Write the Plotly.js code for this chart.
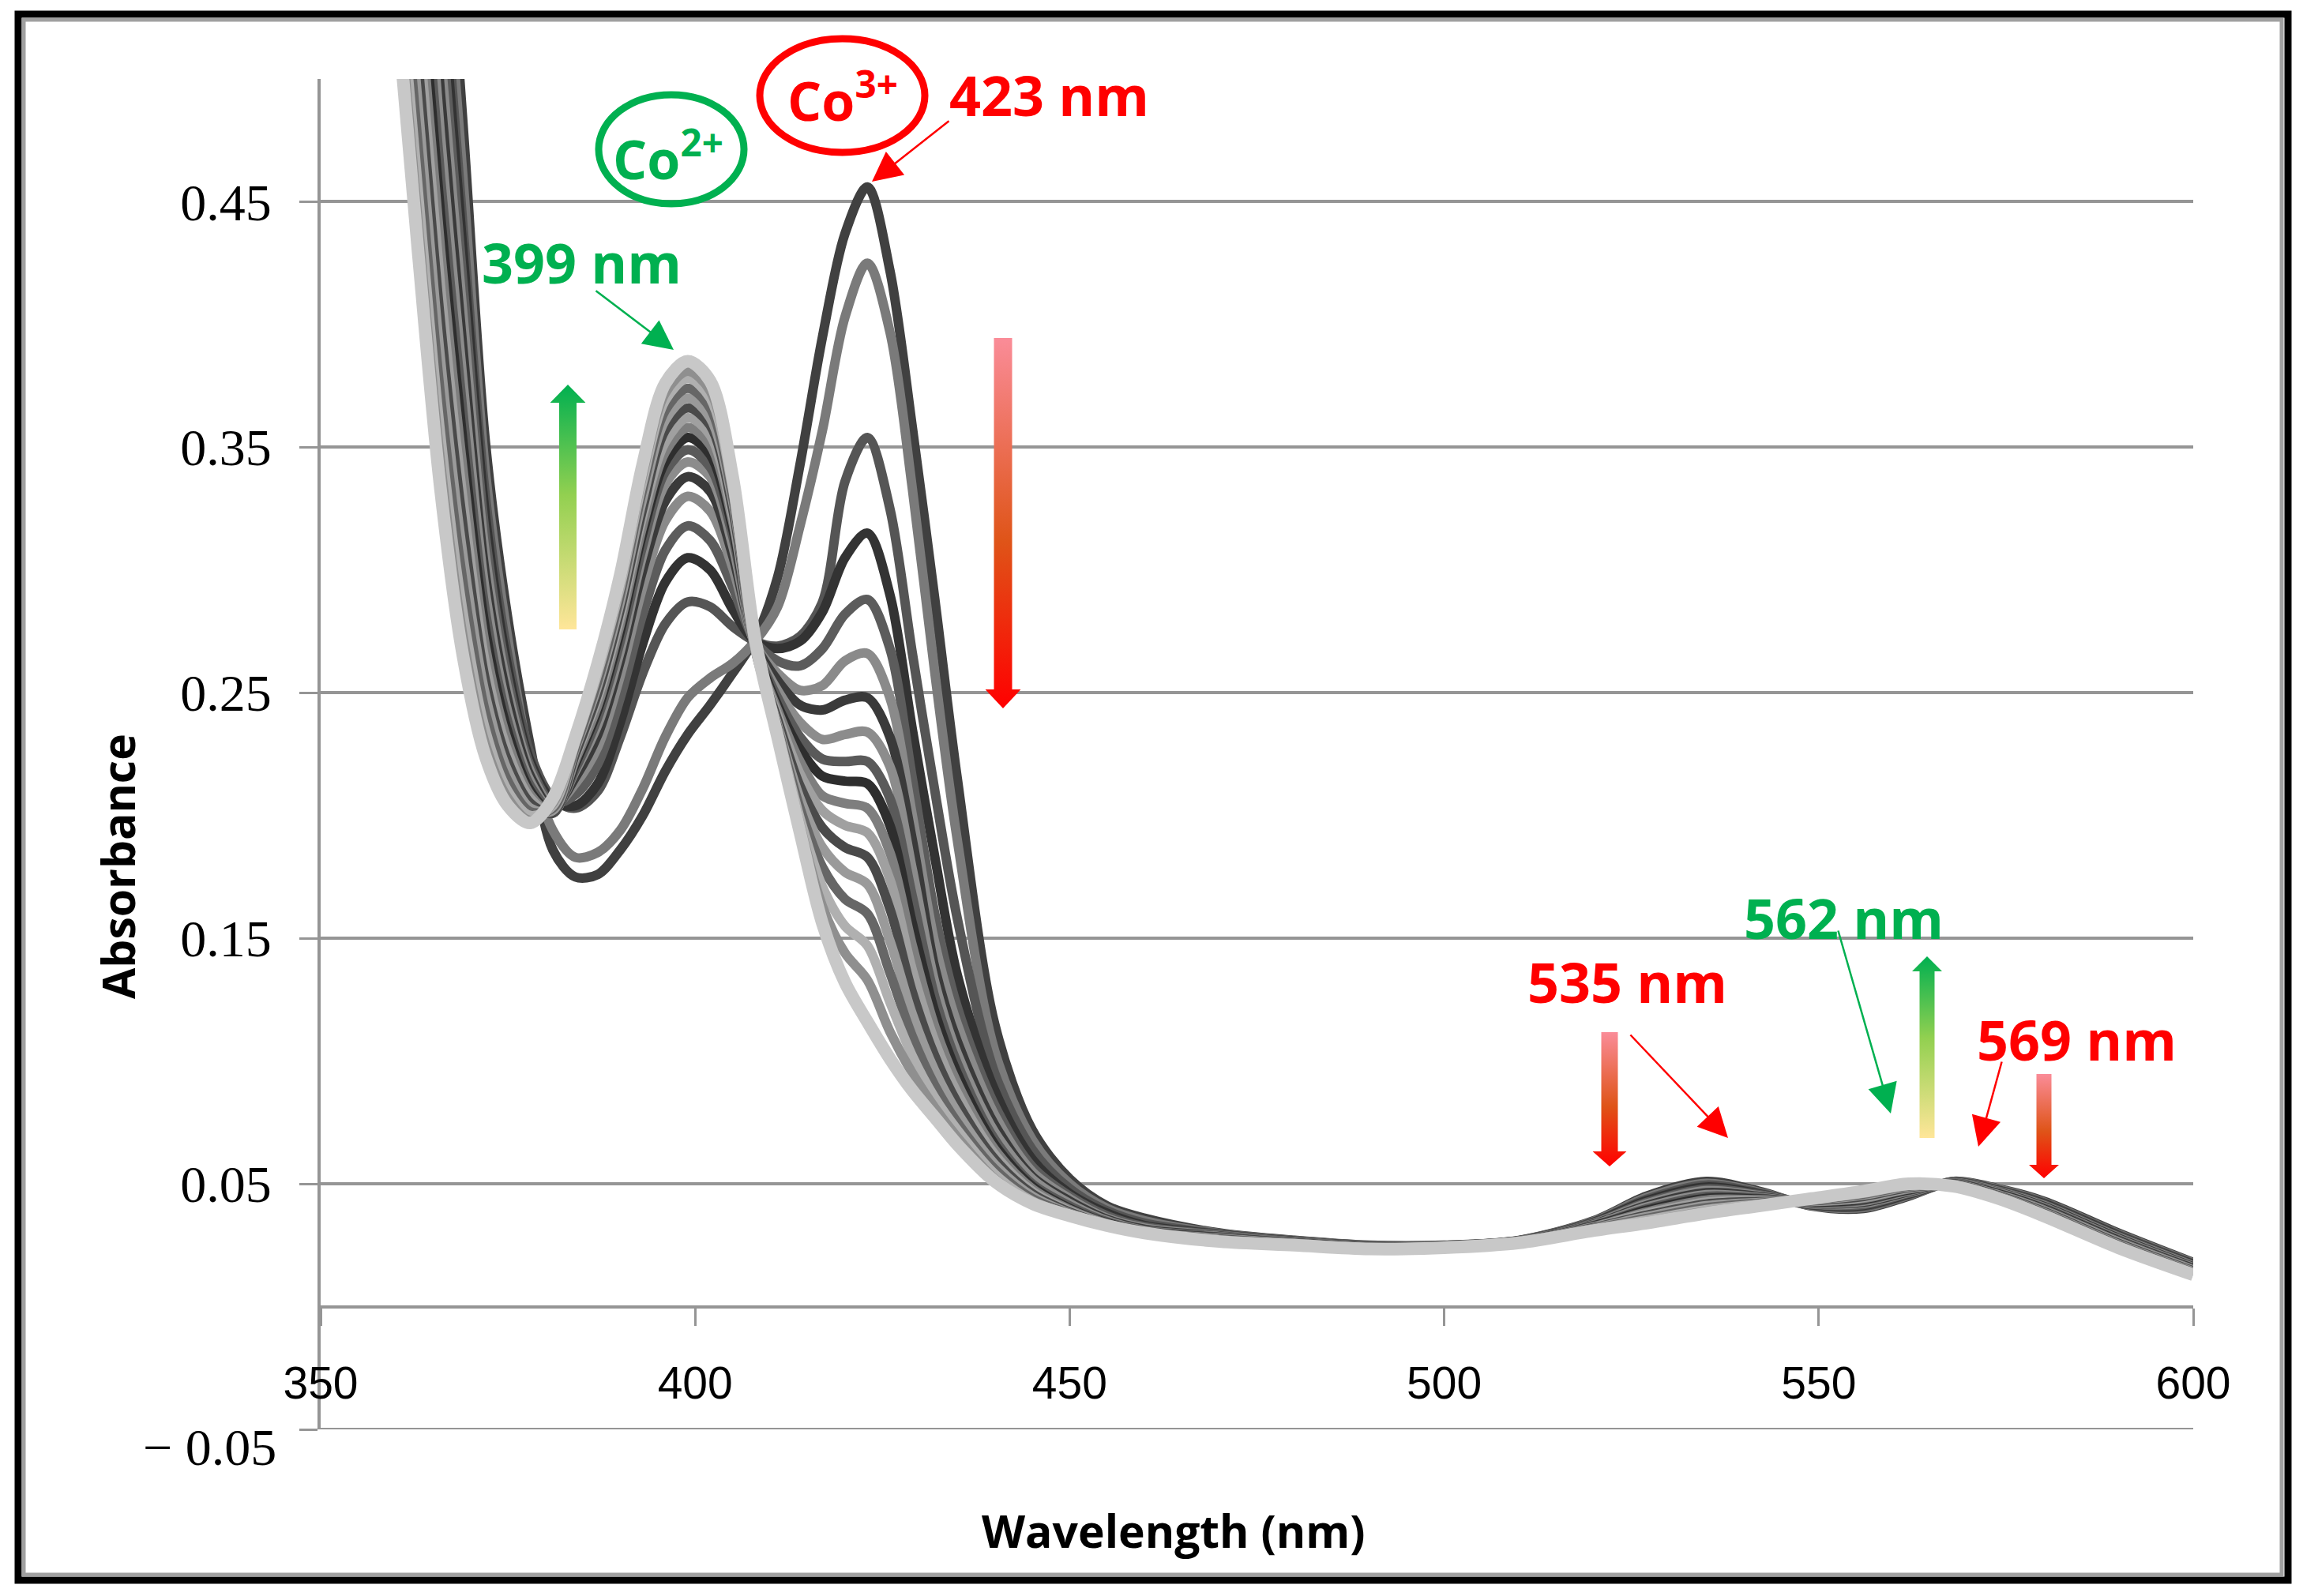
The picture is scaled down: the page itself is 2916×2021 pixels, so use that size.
<!DOCTYPE html>
<html>
<head>
<meta charset="utf-8">
<script src="https://cdn.plot.ly/plotly-3.0.1.min.js"></script>
<style>html,body{margin:0;padding:0;background:#fff}</style>
</head>
<body>
<div id="plot" style="width:2916px;height:2021px"></div>
<script>
// wavelengths (nm) shared by every scan
const wavelength = [360,363,366,369,372,375,378,381,384,387,390,393,396,399,402,405,408,411,414,417,420,423,426,429,432,435,
  440,445,450,455,460,470,480,490,500,510,520,527,535,542,549,556,562,568,574,580,590,600];

// absorbance scans, first (Co3+ rich, dark) to last (Co2+, light grey)
const scan01 = [0.85,0.74,0.61,0.482,0.352,0.28,0.228,0.186,0.175,0.176,0.186,0.200,0.218,0.233,0.245,0.258,0.272,0.297,0.343,0.395,0.437,0.456,0.422,0.358,0.288,0.215,
  0.115,0.072,0.052,0.041,0.036,0.030,0.027,0.025,0.025,0.027,0.035,0.045,0.051,0.047,0.041,0.040,0.045,0.051,0.048,0.043,0.030,0.018];
const scan02 = [0.82,0.71,0.58,0.46,0.34,0.272,0.222,0.194,0.183,0.185,0.194,0.211,0.232,0.248,0.256,0.262,0.271,0.285,0.318,0.357,0.403,0.425,0.397,0.333,0.258,0.19,
  0.104,0.068,0.050,0.040,0.035,0.0298,0.0269,0.0249,0.0249,0.0269,0.0348,0.0444,0.0502,0.0466,0.0412,0.0404,0.0453,0.0509,0.0478,0.0426,0.0296,0.0177];
const scan03 = [0.80,0.69,0.56,0.44,0.33,0.265,0.225,0.207,0.203,0.210,0.232,0.258,0.278,0.287,0.285,0.277,0.271,0.269,0.273,0.287,0.336,0.354,0.325,0.266,0.21,0.158,
  0.095,0.064,0.048,0.039,0.034,0.0296,0.0268,0.0248,0.0249,0.0269,0.0345,0.0437,0.0495,0.0463,0.0414,0.0408,0.0456,0.0508,0.0475,0.0423,0.0293,0.0174];
const scan04 = [0.78,0.67,0.545,0.43,0.322,0.26,0.222,0.206,0.204,0.213,0.238,0.27,0.295,0.305,0.300,0.284,0.271,0.268,0.271,0.283,0.305,0.315,0.29,0.235,0.183,0.135,
  0.088,0.060,0.046,0.038,0.033,0.0294,0.0266,0.0247,0.0248,0.0268,0.0343,0.0431,0.0487,0.0459,0.0415,0.0412,0.0459,0.0506,0.0473,0.0419,0.0289,0.0171];
const scan05 = [0.760,0.651,0.528,0.417,0.314,0.2555,0.220,0.205,0.2085,0.221,0.248,0.282,0.308,0.318,0.312,0.293,0.271,0.263,0.261,0.268,0.282,0.288,0.268,0.215,0.16,0.122,
  0.082,0.057,0.045,0.037,0.0325,0.0292,0.0265,0.0246,0.0248,0.0268,0.0341,0.0424,0.0479,0.0456,0.0417,0.0416,0.0462,0.0505,0.0471,0.0416,0.0286,0.0168];
const scan06 = [0.741,0.632,0.511,0.404,0.306,0.251,0.218,0.204,0.213,0.228,0.257,0.293,0.320,0.330,0.324,0.301,0.270,0.258,0.251,0.253,0.263,0.266,0.248,0.2,0.148,0.115,
  0.078,0.055,0.044,0.036,0.032,0.029,0.0264,0.0246,0.0247,0.0267,0.0338,0.0418,0.0472,0.0452,0.0419,0.0421,0.0465,0.0504,0.0468,0.0412,0.0282,0.0165];
const scan07 = [0.721,0.612,0.494,0.390,0.298,0.247,0.216,0.203,0.2155,0.233,0.263,0.300,0.328,0.338,0.332,0.306,0.270,0.255,0.245,0.243,0.247,0.248,0.232,0.19,0.138,0.108,
  0.074,0.053,0.043,0.0355,0.0315,0.0288,0.0263,0.0245,0.0246,0.0266,0.0336,0.0411,0.0464,0.0449,0.0421,0.0425,0.0468,0.0503,0.0466,0.0409,0.0279,0.0162];
const scan08 = [0.702,0.593,0.477,0.377,0.291,0.242,0.214,0.202,0.218,0.237,0.267,0.306,0.335,0.344,0.338,0.310,0.269,0.251,0.238,0.231,0.233,0.234,0.22,0.178,0.132,0.103,
  0.071,0.052,0.042,0.035,0.031,0.0286,0.0262,0.0244,0.0246,0.0266,0.0334,0.0405,0.0456,0.0445,0.0422,0.0429,0.0471,0.0502,0.0464,0.0405,0.0275,0.0159];
const scan09 = [0.682,0.574,0.460,0.364,0.283,0.238,0.212,0.202,0.219,0.240,0.271,0.310,0.340,0.349,0.342,0.314,0.269,0.248,0.232,0.223,0.222,0.222,0.207,0.167,0.126,0.099,
  0.068,0.050,0.041,0.0345,0.0308,0.0284,0.0261,0.0243,0.0245,0.0265,0.0331,0.0398,0.0449,0.0442,0.0424,0.0433,0.0474,0.0501,0.0461,0.0402,0.0272,0.0156];
const scan10 = [0.665,0.557,0.445,0.352,0.276,0.234,0.210,0.201,0.221,0.243,0.275,0.315,0.344,0.354,0.347,0.317,0.269,0.245,0.227,0.216,0.214,0.213,0.196,0.156,0.12,0.095,
  0.066,0.049,0.040,0.034,0.0305,0.0281,0.0259,0.0242,0.0245,0.0265,0.0329,0.0392,0.0441,0.0438,0.0426,0.0437,0.0476,0.0499,0.0459,0.0398,0.0268,0.0154];
const scan11 = [0.648,0.540,0.431,0.341,0.269,0.230,0.2085,0.201,0.2225,0.245,0.278,0.318,0.348,0.358,0.351,0.320,0.268,0.243,0.222,0.208,0.205,0.203,0.185,0.147,0.114,0.091,
  0.064,0.048,0.0395,0.0338,0.0303,0.0279,0.0258,0.0241,0.0244,0.0264,0.0326,0.0385,0.0434,0.0435,0.0428,0.0441,0.0479,0.0498,0.0456,0.0395,0.0265,0.0151];
const scan12 = [0.631,0.524,0.416,0.329,0.262,0.226,0.207,0.201,0.224,0.248,0.281,0.322,0.352,0.362,0.355,0.322,0.268,0.241,0.217,0.202,0.196,0.193,0.174,0.137,0.108,0.087,
  0.062,0.047,0.039,0.0335,0.030,0.0277,0.0257,0.024,0.0244,0.0264,0.0324,0.0379,0.0426,0.0431,0.0429,0.0445,0.0482,0.0497,0.0454,0.0391,0.0261,0.0148];
const scan13 = [0.613,0.507,0.401,0.318,0.255,0.222,0.205,0.201,0.225,0.250,0.284,0.325,0.357,0.366,0.359,0.325,0.268,0.239,0.212,0.195,0.187,0.183,0.162,0.128,0.102,0.083,
  0.060,0.046,0.0385,0.0333,0.030,0.0275,0.0256,0.0239,0.0243,0.0263,0.0322,0.0372,0.0418,0.0428,0.0431,0.0449,0.0485,0.0496,0.0452,0.0388,0.0258,0.0145];
const scan14 = [0.596,0.49,0.386,0.306,0.249,0.218,0.203,0.202,0.227,0.253,0.287,0.329,0.361,0.370,0.362,0.328,0.268,0.237,0.207,0.187,0.177,0.172,0.149,0.119,0.096,0.079,
  0.058,0.045,0.038,0.033,0.030,0.0273,0.0255,0.0239,0.0242,0.0262,0.0319,0.0366,0.0411,0.0424,0.0433,0.0454,0.0488,0.0495,0.0449,0.0384,0.0254,0.0142];
const scan15 = [0.579,0.473,0.371,0.295,0.242,0.214,0.2015,0.203,0.228,0.255,0.290,0.333,0.365,0.374,0.366,0.330,0.268,0.236,0.203,0.179,0.166,0.160,0.136,0.11,0.09,0.075,
  0.056,0.044,0.0378,0.033,0.030,0.0271,0.0254,0.0238,0.0242,0.0262,0.0317,0.0359,0.0403,0.0421,0.0435,0.0458,0.0491,0.0494,0.0447,0.0381,0.0251,0.0139];
const scan16 = [0.562,0.456,0.356,0.283,0.235,0.210,0.200,0.204,0.2295,0.258,0.293,0.336,0.369,0.378,0.370,0.333,0.268,0.235,0.199,0.171,0.155,0.147,0.124,0.102,0.085,0.072,
  0.054,0.043,0.0375,0.033,0.030,0.0269,0.0252,0.0237,0.0241,0.0261,0.0315,0.0353,0.0395,0.0417,0.0436,0.0462,0.0494,0.0492,0.0445,0.0377,0.0247,0.0136];
const scan17 = [0.547,0.442,0.344,0.273,0.229,0.207,0.198,0.205,0.231,0.260,0.295,0.339,0.372,0.381,0.373,0.336,0.269,0.234,0.196,0.163,0.144,0.133,0.112,0.095,0.081,0.069,
  0.052,0.0425,0.037,0.033,0.030,0.0267,0.0251,0.0236,0.0241,0.0261,0.0312,0.0346,0.0388,0.0414,0.0438,0.0466,0.0497,0.0491,0.0442,0.0374,0.0244,0.0133];
const scan18 = [0.535,0.43,0.333,0.265,0.224,0.204,0.197,0.207,0.232,0.262,0.298,0.343,0.376,0.385,0.377,0.338,0.272,0.232,0.193,0.156,0.132,0.116,0.101,0.088,0.077,0.066,
  0.051,0.042,0.037,0.033,0.030,0.0265,0.025,0.0235,0.024,0.026,0.031,0.034,0.038,0.041,0.044,0.047,0.050,0.049,0.044,0.037,0.024,0.013];

const xTicks = [350, 400, 450, 500, 550, 600];
const yTicks = [-0.05, 0.05, 0.15, 0.25, 0.35, 0.45];
const yTickText = ['', '0.05', '0.15', '0.25', '0.35', '0.45'];

const scans = [scan01, scan02, scan03, scan04, scan05, scan06, scan07, scan08, scan09,
               scan10, scan11, scan12, scan13, scan14, scan15, scan16, scan17, scan18];
const lineColors = ['#404040','#7a7a7a','#555555','#333333','#5c5c5c','#8a8a8a','#3a3a3a','#8c8c8c','#5a5a5a',
                    '#2e2e2e','#7e7e7e','#a0a0a0','#4a4a4a','#9a9a9a','#666666','#b0b0b0','#8f8f8f','#c8c8c8'];

const RED = '#FF0000', GREEN = '#00B050', GRID = '#959595';

// page geometry: plot area sits at 406..2777 x 100..1810 px
const W = 2916, H = 2021, L = 406, R = 139, T = 100, B = 211;
const PW = W - L - R, PH = H - T - B;
const px = X => (X - L) / PW;
const py = Y => (H - B - Y) / PH;

const traces = scans.map((s, i) => ({
    x: wavelength,
    y: s,
    type: 'scatter',
    mode: 'lines',
    line: { color: lineColors[i], width: i === scans.length - 1 ? 16 : 12, shape: 'spline', smoothing: 0.9 },
    hoverinfo: 'skip',
    showlegend: false
}));

// vertical arrow with a colour gradient, drawn as an svg image
function gradArrow(cx, yTail, yTip, shaftW, headW, headLen, cTail, cMid, cTip) {
    const h = Math.abs(yTip - yTail), up = yTip < yTail;
    const a = headW / 2 - shaftW / 2, b = headW / 2 + shaftW / 2;
    const pts = up
        ? [[a, h], [b, h], [b, headLen], [headW, headLen], [headW / 2, 0], [0, headLen], [a, headLen]]
        : [[a, 0], [b, 0], [b, h - headLen], [headW, h - headLen], [headW / 2, h], [0, h - headLen], [a, h - headLen]];
    const svg = `<svg xmlns="http://www.w3.org/2000/svg" width="${headW}" height="${h}" viewBox="0 0 ${headW} ${h}" preserveAspectRatio="none">` +
        `<defs><linearGradient id="g" x1="0" y1="${up ? 1 : 0}" x2="0" y2="${up ? 0 : 1}">` +
        `<stop offset="0" stop-color="${cTail}"/><stop offset="0.55" stop-color="${cMid}"/><stop offset="1" stop-color="${cTip}"/>` +
        `</linearGradient></defs><polygon fill="url(#g)" points="${pts.map(p => p.join(',')).join(' ')}"/></svg>`;
    return {
        source: 'data:image/svg+xml;charset=utf-8,' + encodeURIComponent(svg),
        xref: 'paper', yref: 'paper',
        x: px(cx - headW / 2), y: py(Math.min(yTail, yTip)),
        sizex: headW / PW, sizey: h / PH,
        xanchor: 'left', yanchor: 'top', sizing: 'stretch', layer: 'above'
    };
}

function label(text, X, Y, color, size, angle) {
    return { text: text, xref: 'paper', yref: 'paper', x: px(X), y: py(Y), showarrow: false,
             textangle: angle || 0, xanchor: 'center', yanchor: 'middle',
             font: { family: 'Open Sans', size: size, color: color } };
}

function pointer(tipX, tipY, tailX, tailY, color) {
    return { text: '', xref: 'paper', yref: 'paper', x: px(tipX), y: py(tipY),
             ax: tailX - tipX, ay: tailY - tipY, showarrow: true,
             arrowhead: 2, arrowsize: 3, arrowwidth: 2.5, arrowcolor: color };
}

const annotations = [
    label('<b>Absorbance</b>', 149, 1097, '#000', 57, -90),
    label('<b>Wavelength (nm)</b>', 1485, 1938, '#000', 57),
    { text: '\u2212 0.05', xref: 'paper', yref: 'paper', x: px(352), y: py(1832), xanchor: 'right', yanchor: 'middle',
      showarrow: false, font: { family: 'Liberation Serif', size: 66, color: '#000' } },
    label('<b>Co<sup>3+</sup></b>', 1067, 123, RED, 68),
    label('<b>Co<sup>2+</sup></b>', 846, 197, GREEN, 68),
    label('<b>423 nm</b>', 1328, 120, RED, 70),
    label('<b>399 nm</b>', 736, 332, GREEN, 70),
    label('<b>535 nm</b>', 2060, 1243, RED, 70),
    label('<b>562 nm</b>', 2334, 1162, GREEN, 70),
    label('<b>569 nm</b>', 2629, 1316, RED, 70),
    pointer(1104, 230, 1203, 152, RED),
    pointer(853, 443, 753, 367, GREEN),
    pointer(2188, 1441, 2063, 1309, RED),
    pointer(2394, 1410, 2327, 1177, GREEN),
    pointer(2505, 1452, 2535, 1343, RED)
];

const images = [
    gradArrow(719, 797, 487, 22, 45, 23, '#FFE699', '#92D050', '#00B050'),
    gradArrow(1270, 428, 897, 23, 45, 24, '#FA8C98', '#DF5418', '#FF0000'),
    gradArrow(2038, 1307, 1477, 21, 43, 19, '#FA8C98', '#DF5418', '#FF0000'),
    gradArrow(2440, 1441, 1211, 19, 38, 19, '#FFE699', '#92D050', '#00B050'),
    gradArrow(2588, 1360, 1492, 19, 38, 17, '#FA8C98', '#DF5418', '#FF0000')
];

const shapes = [
    // bottom grid line at -0.05
    { type: 'line', xref: 'x', yref: 'y', x0: 350, x1: 600, y0: -0.05, y1: -0.05, line: { color: GRID, width: 4 } },
    // ellipses around the ion labels
    { type: 'circle', xref: 'paper', yref: 'paper', x0: px(962), x1: px(1171), y0: py(193), y1: py(49), line: { color: RED, width: 9 } },
    { type: 'circle', xref: 'paper', yref: 'paper', x0: px(758), x1: px(942), y0: py(258), y1: py(120), line: { color: GREEN, width: 9 } },
    // picture frame
    { type: 'rect', xref: 'paper', yref: 'paper', x0: px(23), x1: px(2897), y0: py(18), y1: py(2001), line: { color: '#000', width: 9 } },
    { type: 'rect', xref: 'paper', yref: 'paper', x0: px(30), x1: px(2889), y0: py(25), y1: py(1994), line: { color: '#a0a0a0', width: 5 } }
];

const layout = {
    width: W, height: H,
    margin: { l: L, r: R, t: T, b: B },
    paper_bgcolor: '#fff', plot_bgcolor: '#fff',
    showlegend: false,
    xaxis: {
        range: [350, 600], tickvals: xTicks, ticks: 'outside', ticklen: 22, tickwidth: 3, tickcolor: GRID,
        showline: true, linecolor: GRID, linewidth: 4, showgrid: false, zeroline: false,
        anchor: 'free', position: 0.05 / 0.55, ticklabelstandoff: 24,
        tickfont: { family: 'Liberation Sans', size: 57, color: '#000' }
    },
    yaxis: {
        range: [-0.05, 0.5], tickvals: yTicks, ticktext: yTickText, ticks: 'outside', ticklen: 23, tickwidth: 3, tickcolor: GRID,
        showline: true, linecolor: GRID, linewidth: 4, showgrid: true, gridcolor: GRID, gridwidth: 4, zeroline: false,
        ticklabelstandoff: 22,
        tickfont: { family: 'Liberation Serif', size: 66, color: '#000' }
    },
    annotations: annotations,
    shapes: shapes,
    images: images
};

Plotly.newPlot('plot', traces, layout, { displayModeBar: false, staticPlot: true });
</script>
</body>
</html>
